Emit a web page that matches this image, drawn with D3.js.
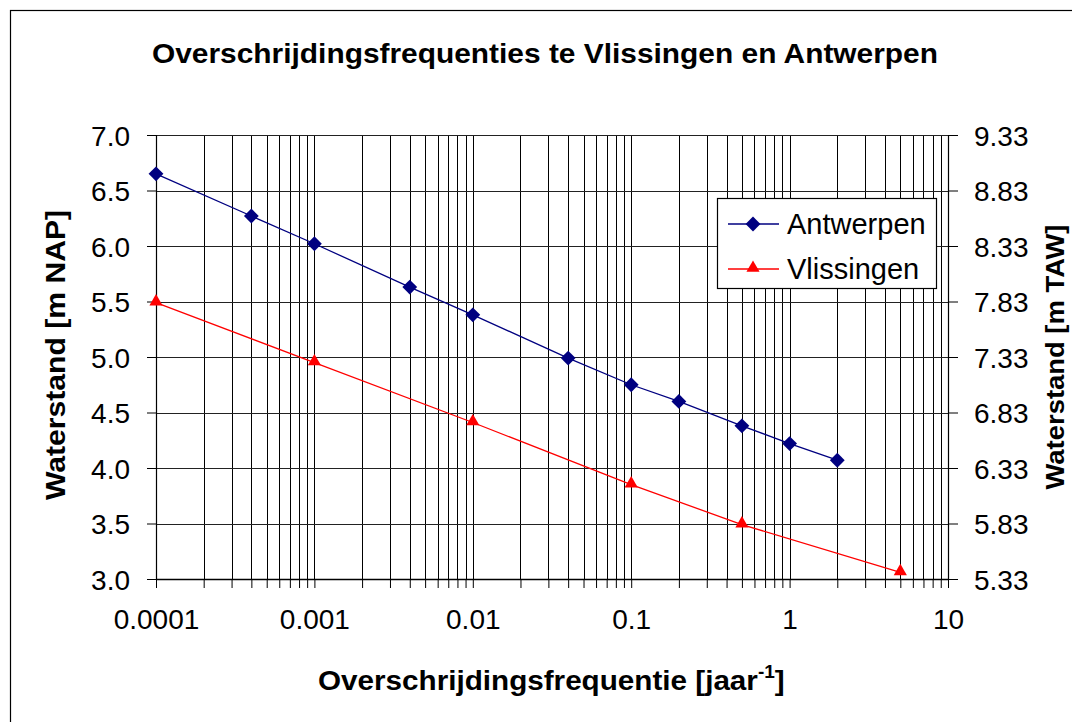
<!DOCTYPE html>
<html>
<head>
<meta charset="utf-8">
<script src="https://cdn.jsdelivr.net/npm/d3@7"></script>
<style>
  body { margin: 0; background: #fff; }
  text { font-family: "Liberation Sans", Arial, sans-serif; }
</style>
</head>
<body>
<div id="chart"></div>
<script>
// data
const freqAntwerpen = [0.0001, 0.0004, 0.001, 0.004, 0.01, 0.04, 0.1, 0.2, 0.5, 1, 2];
const levelAntwerpen = [6.65, 6.27, 6.02, 5.63, 5.38, 4.99, 4.75, 4.60, 4.38, 4.22, 4.07];
const freqVlissingen = [0.0001, 0.001, 0.01, 0.1, 0.5, 5];
const levelVlissingen = [5.49, 4.95, 4.41, 3.85, 3.49, 3.06];
const xMajor = [0.0001, 0.001, 0.01, 0.1, 1, 10];
const xLabels = ["0.0001", "0.001", "0.01", "0.1", "1", "10"];
const yLeftTicks = [3.0, 3.5, 4.0, 4.5, 5.0, 5.5, 6.0, 6.5, 7.0];
const yRightTicks = [5.33, 5.83, 6.33, 6.83, 7.33, 7.83, 8.33, 8.83, 9.33];

const W = 1072, H = 722;
const L = 156, R = 948, T = 135, B = 579;

const svg = d3.select('#chart').append('svg')
    .attr('width', W).attr('height', H);

svg.append('rect').attr('width', W).attr('height', H).attr('fill', '#fff');
// outer chart border (only top/left fall inside the picture)
svg.append('rect')
    .attr('x', 10.5).attr('y', 10.5)
    .attr('width', W + 20).attr('height', H + 20)
    .attr('fill', 'none').attr('stroke', '#000').attr('stroke-width', 1.2);

const x = d3.scaleLog().domain([0.0001, 10]).range([L, R]);
const y = d3.scaleLinear().domain([3, 7]).range([B, T]);
const yR = d3.scaleLinear().domain([5.33, 9.33]).range([B, T]);

// all log grid positions 1..9 per decade
const xMinor = [];
xMajor.slice(0, -1).forEach(d => {
    for (let m = 1; m <= 9; m++) xMinor.push(+(m * d).toPrecision(3));
});
xMinor.push(10);

// vertical grid
svg.append('g')
    .selectAll('line')
    .data(xMinor)
    .enter().append('line')
    .attr('x1', d => Math.round(x(d)) + 0.5)
    .attr('x2', d => Math.round(x(d)) + 0.5)
    .attr('y1', T).attr('y2', B)
    .attr('stroke', '#000')
    .attr('stroke-width', 1);

// horizontal grid
svg.append('g')
    .selectAll('line')
    .data(yLeftTicks)
    .enter().append('line')
    .attr('x1', L).attr('x2', R)
    .attr('y1', d => Math.round(y(d)) + 0.5)
    .attr('y2', d => Math.round(y(d)) + 0.5)
    .attr('stroke', '#222')
    .attr('stroke-width', 1);

// axes
const xAxis = d3.axisBottom(x)
    .tickValues(xMinor)
    .tickSize(9)
    .tickPadding(21)
    .tickFormat(d => {
        const i = xMajor.findIndex(v => Math.abs(v - d) < d * 1e-6);
        return i >= 0 ? xLabels[i] : '';
    });
const gx = svg.append('g').attr('transform', `translate(0,${B})`).call(xAxis);

const yAxis = d3.axisLeft(y).tickValues(yLeftTicks).tickFormat(d3.format('.1f'))
    .tickSize(9).tickPadding(17);
const gy = svg.append('g').attr('transform', `translate(${L},0)`).call(yAxis);

const yAxisR = d3.axisRight(yR).tickValues(yRightTicks).tickFormat(d3.format('.2f'))
    .tickSize(10).tickPadding(16);
const gyr = svg.append('g').attr('transform', `translate(${R},0)`).call(yAxisR);

[gx, gy, gyr].forEach(g => {
    g.select('.domain').attr('stroke', '#000').attr('stroke-width', 1.2);
    g.selectAll('.tick line').attr('stroke', '#000');
    g.selectAll('text')
        .attr('fill', '#000')
        .style('font-family', '"Liberation Sans", Arial, sans-serif')
        .style('font-size', '28px');
});
gx.select('.domain').remove();
svg.append('line').attr('x1', L).attr('x2', R).attr('y1', B + 0.5).attr('y2', B + 0.5)
    .attr('stroke', '#000').attr('stroke-width', 1.5);
gy.selectAll('.tick text').attr('dy', '0.36em');
gyr.selectAll('.tick text').attr('dy', '0.36em');

// lines
const line = d3.line().x(d => x(d[0])).y(d => y(d[1]));
const antw = freqAntwerpen.map((f, i) => [f, levelAntwerpen[i]]);
const vlis = freqVlissingen.map((f, i) => [f, levelVlissingen[i]]);

svg.append('path').datum(vlis).attr('d', line)
    .attr('fill', 'none').attr('stroke', '#ff0000').attr('stroke-width', 1.3);
svg.append('path').datum(antw).attr('d', line)
    .attr('fill', 'none').attr('stroke', '#000080').attr('stroke-width', 1.3);

const diamond = d3.symbol().type(d3.symbolDiamond2).size(140);
const triangle = d3.symbol().type(d3.symbolTriangle).size(75);

svg.append('g').selectAll('path')
    .data(antw).enter().append('path')
    .attr('d', diamond)
    .attr('transform', d => `translate(${x(d[0])},${y(d[1])})`)
    .attr('fill', '#000080');

svg.append('g').selectAll('path')
    .data(vlis).enter().append('path')
    .attr('d', triangle)
    .attr('transform', d => `translate(${x(d[0])},${y(d[1]) - 1})`)
    .attr('fill', '#ff0000');

// legend
const lg = svg.append('g');
lg.append('rect').attr('x', 717.5).attr('y', 198.5).attr('width', 219).attr('height', 90)
    .attr('fill', '#fff').attr('stroke', '#000').attr('stroke-width', 1.2);
const legendItems = [
    { name: 'Antwerpen', color: '#000080', sym: diamond, yy: 224 },
    { name: 'Vlissingen', color: '#ff0000', sym: triangle, yy: 269 }
];
legendItems.forEach(it => {
    lg.append('line').attr('x1', 728).attr('x2', 779).attr('y1', it.yy).attr('y2', it.yy)
        .attr('stroke', it.color).attr('stroke-width', 1.3);
    lg.append('path').attr('d', it.sym).attr('fill', it.color)
        .attr('transform', `translate(753,${it.yy - (it.name === 'Vlissingen' ? 1 : 0)})`);
    lg.append('text').attr('x', 787).attr('y', it.yy + 10)
        .style('font-size', '29px').text(it.name);
});

// titles
svg.append('text')
    .attr('x', 545).attr('y', 63)
    .attr('text-anchor', 'middle')
    .style('font-size', '27px').style('font-weight', 'bold')
    .attr('textLength', 786).attr('lengthAdjust', 'spacingAndGlyphs')
    .text('Overschrijdingsfrequenties te Vlissingen en Antwerpen');

const xt = svg.append('text')
    .attr('x', 318).attr('y', 690)
    .style('font-size', '28px').style('font-weight', 'bold');
xt.append('tspan').text('Overschrijdingsfrequentie [jaar');
xt.append('tspan').attr('dy', -12).style('font-size', '18px').text('-1');
xt.append('tspan').attr('dy', 12).text(']');
// stretch to the width of the reference label
const xtw = xt.node().getComputedTextLength();
xt.attr('transform', `translate(318,0) scale(${467 / xtw},1) translate(-318,0)`);

svg.append('text')
    .attr('transform', 'translate(65,355) rotate(-90)')
    .attr('text-anchor', 'middle')
    .style('font-size', '28px').style('font-weight', 'bold')
    .attr('textLength', 290).attr('lengthAdjust', 'spacingAndGlyphs')
    .text('Waterstand [m NAP]');

svg.append('text')
    .attr('transform', 'translate(1064,357) rotate(-90)')
    .attr('text-anchor', 'middle')
    .style('font-size', '25px').style('font-weight', 'bold')
    .attr('textLength', 265).attr('lengthAdjust', 'spacingAndGlyphs')
    .text('Waterstand [m TAW]');
</script>
</body>
</html>
